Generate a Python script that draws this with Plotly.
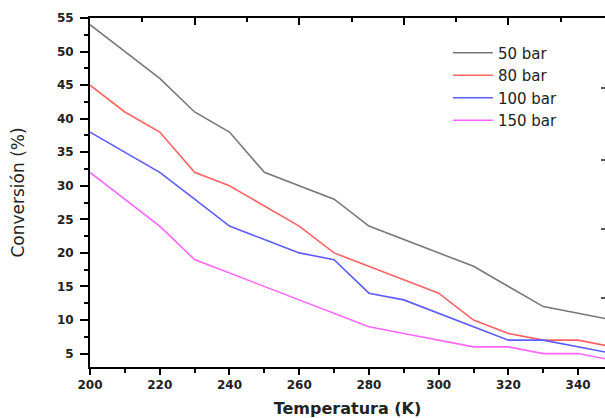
import plotly.graph_objects as go

temperature = [200, 210, 220, 230, 240, 250, 260, 270, 280, 290, 300, 310, 320, 330, 340, 350]
conv_50 = [54, 50, 46, 41, 38, 32, 30, 28, 24, 22, 20, 18, 15, 12, 11, 10]
conv_80 = [45, 41, 38, 32, 30, 27, 24, 20, 18, 16, 14, 10, 8, 7, 7, 6]
conv_100 = [38, 35, 32, 28, 24, 22, 20, 19, 14, 13, 11, 9, 7, 7, 6, 5]
conv_150 = [32, 28, 24, 19, 17, 15, 13, 11, 9, 8, 7, 6, 6, 5, 5, 4]
series_names = ["50 bar", "80 bar", "100 bar", "150 bar"]
series_colors = ["#787878", "#ff6262", "#5c5cff", "#ff66ff"]

x_ticks = [200, 220, 240, 260, 280, 300, 320, 340]
y_ticks = [5, 10, 15, 20, 25, 30, 35, 40, 45, 50, 55]
top_ticks = [200, 230, 260, 290, 320, 350]
top_minor_ticks = [215, 245, 275, 305, 335]
right_ticks = [44.6, 33.9, 23.6, 13.3]

X_RANGE = [200, 347.7]
Y_RANGE = [3, 55]

fig = go.Figure()
for name, vals, col in zip(series_names, [conv_50, conv_80, conv_100, conv_150], series_colors):
    fig.add_trace(go.Scatter(x=temperature, y=vals, mode="lines", name=name,
                             line=dict(color=col, width=1.6)))

# helper traces so the top and right decorative axes are drawn (invisible)
fig.add_trace(go.Scatter(x=temperature, y=conv_50, xaxis="x2", yaxis="y3", mode="lines",
                         line=dict(width=0, color="rgba(0,0,0,0)"), showlegend=False, hoverinfo="skip"))
fig.add_trace(go.Scatter(x=temperature, y=conv_50, xaxis="x", yaxis="y2", mode="lines",
                         line=dict(width=0, color="rgba(0,0,0,0)"), showlegend=False, hoverinfo="skip"))

tickfont = dict(family="DejaVu Sans", size=12, color="#222222", weight="bold")

fig.update_layout(
    width=605, height=418,
    margin=dict(l=90, r=0, t=18, b=51, autoexpand=False),
    paper_bgcolor="white", plot_bgcolor="rgba(0,0,0,0)",
    showlegend=True,
    legend=dict(x=0.695, y=0.947, xanchor="left", yanchor="top",
                font=dict(family="DejaVu Sans", size=15, color="#222222"),
                bgcolor="rgba(0,0,0,0)", tracegroupgap=0, itemwidth=40),
    xaxis=dict(range=X_RANGE, tickvals=x_ticks, showgrid=False, zeroline=False, automargin=False,
               showline=True, mirror=True, linecolor="black", linewidth=2,
               ticks="outside", ticklen=6, tickwidth=2, tickcolor="black",
               minor=dict(dtick=10, tick0=200, ticks="outside", ticklen=4, tickwidth=1.5, tickcolor="black"),
               tickfont=tickfont,
               title=dict(text="Temperatura (K)", standoff=11,
                          font=dict(family="DejaVu Sans", size=16, color="#222222", weight="bold"))),
    yaxis=dict(range=Y_RANGE, tickvals=y_ticks, showgrid=False, zeroline=False, automargin=False,
               showline=True, linecolor="black", linewidth=2,
               ticks="outside", ticklen=8, tickwidth=2, tickcolor="black",
               minor=dict(dtick=2.5, tick0=5, ticks="outside", ticklen=4, tickwidth=1.5, tickcolor="black"),
               tickfont=tickfont, ticklabelstandoff=4,
               title=dict(text="Conversión (%)", standoff=28,
                          font=dict(family="DejaVu Sans", size=17, color="#222222"))),
    xaxis2=dict(range=X_RANGE, side="top", anchor="y3", automargin=False,
                tickvals=top_ticks, showticklabels=False, showgrid=False, zeroline=False,
                showline=False, ticks="inside", ticklen=7, tickwidth=2, tickcolor="black"),
    xaxis3=dict(range=X_RANGE, side="top", anchor="y3", overlaying="x2", automargin=False,
                tickvals=top_minor_ticks, showticklabels=False, showgrid=False, zeroline=False,
                showline=False, ticks="inside", ticklen=4, tickwidth=1.5, tickcolor="black"),
    yaxis3=dict(range=Y_RANGE, domain=[0, 1], anchor="x2", visible=False, overlaying="y"),
    yaxis2=dict(range=Y_RANGE, overlaying="y", side="right", anchor="free", position=1, automargin=False,
                tickvals=right_ticks, showticklabels=False, showgrid=False, zeroline=False,
                showline=False, ticks="inside", ticklen=4, tickwidth=1.5, tickcolor="#555555"),
)
fig.add_trace(go.Scatter(x=temperature, y=conv_50, xaxis="x3", yaxis="y3", mode="lines",
                         line=dict(width=0, color="rgba(0,0,0,0)"), showlegend=False, hoverinfo="skip"))

fig.write_html("out.html", config={"displayModeBar": False},
               post_script="document.body.style.margin='0px';document.body.style.padding='0px';")
